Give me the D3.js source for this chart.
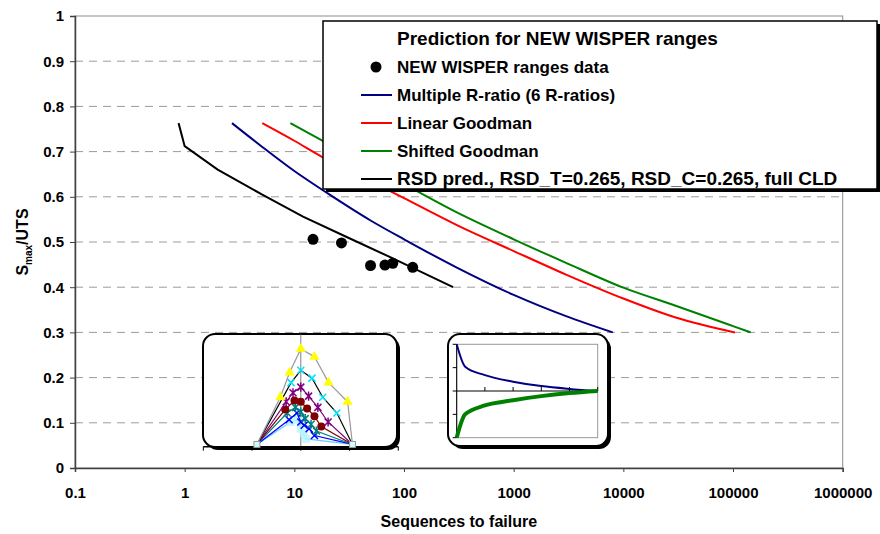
<!DOCTYPE html>
<html>
<head>
<meta charset="utf-8">
<title>Prediction for NEW WISPER ranges</title>
<script src="https://d3js.org/d3.v7.min.js"></script>
<style>
body { margin:0; background:#fff; }
text { font-family: "Liberation Sans", Arial, sans-serif; font-weight: bold; fill: #000; }
</style>
</head>
<body>
<div id="chart"></div>
<script>
// axis ticks
var xTicks = [0.1, 1, 10, 100, 1000, 10000, 100000, 1000000];
var yTicks = [0, 0.1, 0.2, 0.3, 0.4, 0.5, 0.6, 0.7, 0.8, 0.9, 1];
var gridY = [0.1, 0.2, 0.3, 0.4, 0.5, 0.6, 0.7, 0.8, 0.9];

// NEW WISPER ranges data
var dataN = [14.8, 26.9, 49.5, 67, 79, 120];
var dataS = [0.506, 0.498, 0.448, 0.449, 0.453, 0.444];

// Multiple R-ratio (6 R-ratios)
var multiN = [2.7, 5, 10, 20, 50, 100, 300, 1000, 3000, 8000];
var multiS = [0.763, 0.712, 0.657, 0.608, 0.547, 0.506, 0.444, 0.383, 0.336, 0.300];

// Linear Goodman
var linN = [5.1, 10, 18, 30, 100, 300, 1000, 3000, 10000, 30000, 104000];
var linS = [0.763, 0.724, 0.688, 0.661, 0.597, 0.538, 0.480, 0.428, 0.375, 0.333, 0.300];

// Shifted Goodman
var shiftN = [9.2, 20, 100, 300, 1000, 3000, 10000, 30000, 100000, 145000];
var shiftS = [0.763, 0.718, 0.628, 0.566, 0.506, 0.454, 0.399, 0.359, 0.314, 0.300];

// RSD prediction
var rsdN = [0.88, 1, 2, 5, 12, 30, 74, 280];
var rsdS = [0.763, 0.712, 0.660, 0.606, 0.556, 0.511, 0.467, 0.400];

var legendTitle = "Prediction for NEW WISPER ranges";
var legendLabels = ["NEW WISPER ranges data", "Multiple R-ratio (6 R-ratios)", "Linear Goodman",
    "Shifted Goodman", "RSD pred., RSD_T=0.265, RSD_C=0.265, full CLD"];
var legendColors = ["#000000", "#000080", "#ff0000", "#008000", "#000000"];

// small inset: constant life diagram (mean, amplitude)
var cldYellow = [[-0.9,0.02],[-0.42,0.44],[-0.23,0.66],[0,0.87],[0.28,0.80],[0.57,0.57],[0.96,0.40],[1.06,0.02]];
var cldCyan   = [[-0.9,0.02],[-0.2,0.57],[0,0.68],[0.23,0.61],[0.45,0.44],[0.74,0.30],[1.06,0.02]];
var cldPurple = [[-0.9,0.02],[-0.3,0.40],[-0.16,0.48],[0,0.53],[0.16,0.45],[0.35,0.35],[0.56,0.22],[1.06,0.02]];
var cldRed    = [[-0.9,0.02],[-0.32,0.33],[-0.13,0.41],[0,0.40],[0.13,0.34],[0.28,0.27],[0.42,0.18],[1.06,0.02]];
var cldTeal   = [[-0.9,0.02],[-0.28,0.30],[-0.11,0.35],[0,0.31],[0.09,0.25],[0.21,0.20],[0.32,0.14],[1.06,0.02]];
var cldBlue   = [[-0.9,0.02],[-0.24,0.24],[-0.08,0.30],[0,0.22],[0.07,0.19],[0.17,0.16],[0.28,0.10],[1.06,0.02]];
var cldLight  = [[-0.9,0.02],[-0.21,0.22],[-0.07,0.24],[0,0.16],[0.06,0.12],[0.11,0.07],[1.06,0.02]];

// small inset: spread curves
var spreadX = [0, 0.3, 1, 2, 3, 4, 5];
var spreadUp = [2, 1.04, 0.68, 0.40, 0.21, 0.09, 0];
var spreadDown = [-2, -1.0, -0.62, -0.40, -0.22, -0.09, 0];

var width = 880, height = 534;
var svg = d3.select("#chart").append("svg")
    .attr("width", width)
    .attr("height", height);

var x = d3.scaleLog().domain([0.1, 1000000]).range([75, 842.7]);
var y = d3.scaleLinear().domain([0, 1]).range([468, 16]);

// plot frame + dashed grid
svg.append("rect")
    .attr("x", x(0.1)).attr("y", y(1))
    .attr("width", x(1000000) - x(0.1)).attr("height", y(0) - y(1))
    .attr("fill", "#fff").attr("stroke", "#8c8c8c").attr("stroke-width", 1);

svg.selectAll(".grid").data(gridY).enter().append("line")
    .attr("class", "grid")
    .attr("x1", x(0.1)).attr("x2", x(1000000))
    .attr("y1", function(d) { return y(d); }).attr("y2", function(d) { return y(d); })
    .attr("stroke", "#9a9a9a").attr("stroke-dasharray", "8,6");

// axes
var yAxis = svg.append("g")
    .attr("transform", "translate(" + x(0.1) + ",0)")
    .call(d3.axisLeft(y).tickValues(yTicks).tickSize(5).tickPadding(6)
        .tickFormat(function(d) { return String(d); }));
var xAxis = svg.append("g")
    .attr("transform", "translate(0," + y(0) + ")")
    .call(d3.axisBottom(x).tickValues(xTicks).tickSize(4).tickPadding(15)
        .tickFormat(function(d) { return String(d); }));
[xAxis, yAxis].forEach(function(a) {
    a.select(".domain").attr("stroke", "#404040").attr("stroke-width", 1.5);
    a.selectAll(".tick line").attr("stroke", "#404040");
    a.selectAll("text").style("font-size", "15px").style("font-family", "'Liberation Sans', Arial, sans-serif")
        .style("font-weight", "bold").attr("fill", "#000");
});

svg.append("text")
    .attr("x", (x(0.1) + x(1000000)) / 2).attr("y", 527)
    .attr("text-anchor", "middle")
    .style("font-size", "16px")
    .text("Sequences to failure");

var ylab = svg.append("text")
    .attr("transform", "translate(28,242) rotate(-90)")
    .attr("text-anchor", "middle")
    .style("font-size", "16px");
ylab.append("tspan").text("S");
ylab.append("tspan").attr("dy", 4).style("font-size", "10px").text("max");
ylab.append("tspan").attr("dy", -4).text("/UTS");

// prediction curves
var line = d3.line().curve(d3.curveMonotoneX)
    .x(function(d) { return x(d[0]); }).y(function(d) { return y(d[1]); });
var straight = d3.line()
    .x(function(d) { return x(d[0]); }).y(function(d) { return y(d[1]); });
var curves = [
    [d3.zip(multiN, multiS), legendColors[1], line],
    [d3.zip(linN, linS), legendColors[2], line],
    [d3.zip(shiftN, shiftS), legendColors[3], line],
    [d3.zip(rsdN, rsdS), legendColors[4], straight]
];
curves.forEach(function(c) {
    svg.append("path").datum(c[0])
        .attr("d", c[2])
        .attr("fill", "none")
        .attr("stroke", c[1])
        .attr("stroke-width", 2);
});

svg.selectAll(".pt").data(d3.zip(dataN, dataS)).enter().append("circle")
    .attr("class", "pt")
    .attr("cx", function(d) { return x(d[0]); })
    .attr("cy", function(d) { return y(d[1]); })
    .attr("r", 5.5)
    .attr("fill", "#000");

// ---- inset 1: constant life diagram ----
function roundBox(x0, y0, w, h) {
    svg.append("rect").attr("x", x0 + 3).attr("y", y0 + 3).attr("width", w).attr("height", h)
        .attr("rx", 12).attr("fill", "#000");
    svg.append("rect").attr("x", x0).attr("y", y0).attr("width", w).attr("height", h)
        .attr("rx", 12).attr("fill", "#fff").attr("stroke", "#000").attr("stroke-width", 2);
}
roundBox(203, 334, 194, 113);

var ix = d3.scaleLinear().domain([-2, 2]).range([203.3, 398.3]);
var iy = d3.scaleLinear().domain([0, 1]).range([446.7, 334.3]);
var in1 = svg.append("g");
in1.append("line").attr("x1", ix(0)).attr("x2", ix(0)).attr("y1", iy(1)).attr("y2", iy(0))
    .attr("stroke", "#808080");
in1.append("line").attr("x1", ix(-2)).attr("x2", ix(2)).attr("y1", iy(0)).attr("y2", iy(0))
    .attr("stroke", "#000").attr("stroke-width", 1.5);
in1.selectAll(".itick").data([-2, -1, 0, 1, 2]).enter().append("line")
    .attr("x1", function(d) { return ix(d); }).attr("x2", function(d) { return ix(d); })
    .attr("y1", iy(0)).attr("y2", iy(0) + 4).attr("stroke", "#000");

var iline = d3.line().x(function(d) { return ix(d[0]); }).y(function(d) { return iy(d[1]); });
function xMark(g, s, col, star) {
    g.append("path")
        .attr("d", "M" + (-s) + "," + (-s) + "L" + s + "," + s + "M" + (-s) + "," + s + "L" + s + "," + (-s)
            + (star ? "M0," + (-s * 1.3) + "L0," + (s * 1.3) : ""))
        .attr("stroke", col).attr("stroke-width", 1.5).attr("fill", "none");
}
var cldSeries = [
    {d: cldLight, line: "#66ccff", mark: "sq", col: "#b8f4ff"},
    {d: cldBlue, line: "#0000ff", mark: "x", col: "#0000ff"},
    {d: cldTeal, line: "#008080", mark: "star", col: "#008080"},
    {d: cldRed, line: "#800000", mark: "circle", col: "#800000"},
    {d: cldPurple, line: "#800080", mark: "star", col: "#800080"},
    {d: cldCyan, line: "#000000", mark: "x", col: "#00e5ff"},
    {d: cldYellow, line: "#999999", mark: "tri", col: "#ffff00"}
];
cldSeries.forEach(function(s) {
    in1.append("path").datum(s.d).attr("d", iline)
        .attr("fill", "none").attr("stroke", s.line).attr("stroke-width", 1.2);
    s.d.slice(1, s.d.length - 1).forEach(function(p) {
        var g = in1.append("g").attr("transform", "translate(" + ix(p[0]) + "," + iy(p[1]) + ")");
        if (s.mark == "tri") {
            g.append("path").attr("d", d3.symbol().type(d3.symbolTriangle).size(45)).attr("fill", s.col);
        } else if (s.mark == "circle") {
            g.append("circle").attr("r", 4).attr("fill", s.col);
        } else if (s.mark == "sq") {
            g.append("rect").attr("x", -4).attr("y", -4).attr("width", 8).attr("height", 8)
                .attr("fill", s.col).attr("opacity", 0.8);
        } else {
            xMark(g, 3.5, s.col, s.mark == "star");
        }
    });
});
[[-0.9, 0.02], [1.06, 0.02]].forEach(function(p) {
    in1.append("rect").attr("x", ix(p[0]) - 3).attr("y", iy(p[1]) - 3).attr("width", 6).attr("height", 6)
        .attr("fill", "#ccffff").attr("stroke", "#999");
});

// ---- inset 2: spread ----
roundBox(448, 334, 160, 112);
var sx = d3.scaleLinear().domain([0, 5]).range([456.7, 597.7]);
var sy = d3.scaleLinear().domain([-2, 2]).range([437.7, 344.3]);
var in2 = svg.append("g");
in2.append("rect").attr("x", sx(0)).attr("y", sy(2)).attr("width", sx(5) - sx(0)).attr("height", sy(-2) - sy(2))
    .attr("fill", "none").attr("stroke", "#999");
in2.append("line").attr("x1", sx(0)).attr("x2", sx(0)).attr("y1", sy(2)).attr("y2", sy(-2))
    .attr("stroke", "#000");
in2.append("line").attr("x1", sx(0)).attr("x2", sx(5)).attr("y1", sy(0)).attr("y2", sy(0))
    .attr("stroke", "#000");
in2.selectAll(".lt").data([-2, -1, 0, 1, 2]).enter().append("line")
    .attr("x1", sx(0) - 4).attr("x2", sx(0))
    .attr("y1", function(d) { return sy(d); }).attr("y2", function(d) { return sy(d); })
    .attr("stroke", "#000");
in2.selectAll(".bt").data([1, 2, 3, 4, 5]).enter().append("line")
    .attr("x1", function(d) { return sx(d); }).attr("x2", function(d) { return sx(d); })
    .attr("y1", sy(0) - 4).attr("y2", sy(0))
    .attr("stroke", "#000");
var sline = d3.line().curve(d3.curveMonotoneX)
    .x(function(d) { return sx(d[0]); }).y(function(d) { return sy(d[1]); });
in2.append("path").datum(d3.zip(spreadX, spreadUp)).attr("d", sline)
    .attr("fill", "none").attr("stroke", "#000080").attr("stroke-width", 2);
in2.append("path").datum(d3.zip(spreadX, spreadDown)).attr("d", sline)
    .attr("fill", "none").attr("stroke", "#008000").attr("stroke-width", 4);

// ---- legend ----
var lg = svg.append("g");
lg.append("rect").attr("x", 326).attr("y", 24).attr("width", 554).attr("height", 168).attr("fill", "#000");
lg.append("rect").attr("x", 323).attr("y", 21).attr("width", 554).attr("height", 168)
    .attr("fill", "#fff").attr("stroke", "#000").attr("stroke-width", 1.5);
lg.append("text").attr("x", 397).attr("y", 45).style("font-size", "19px").text(legendTitle);
legendLabels.forEach(function(lab, i) {
    var cy = 67 + 28 * i;
    if (i == 0) {
        lg.append("circle").attr("cx", 376).attr("cy", cy).attr("r", 5.5).attr("fill", legendColors[i]);
    } else {
        lg.append("line").attr("x1", 361).attr("x2", 392).attr("y1", cy).attr("y2", cy)
            .attr("stroke", legendColors[i]).attr("stroke-width", 2);
    }
    lg.append("text").attr("x", 397).attr("y", cy + 6)
        .style("font-size", i == 4 ? "19px" : "17px").text(lab);
});
</script>
</body>
</html>
